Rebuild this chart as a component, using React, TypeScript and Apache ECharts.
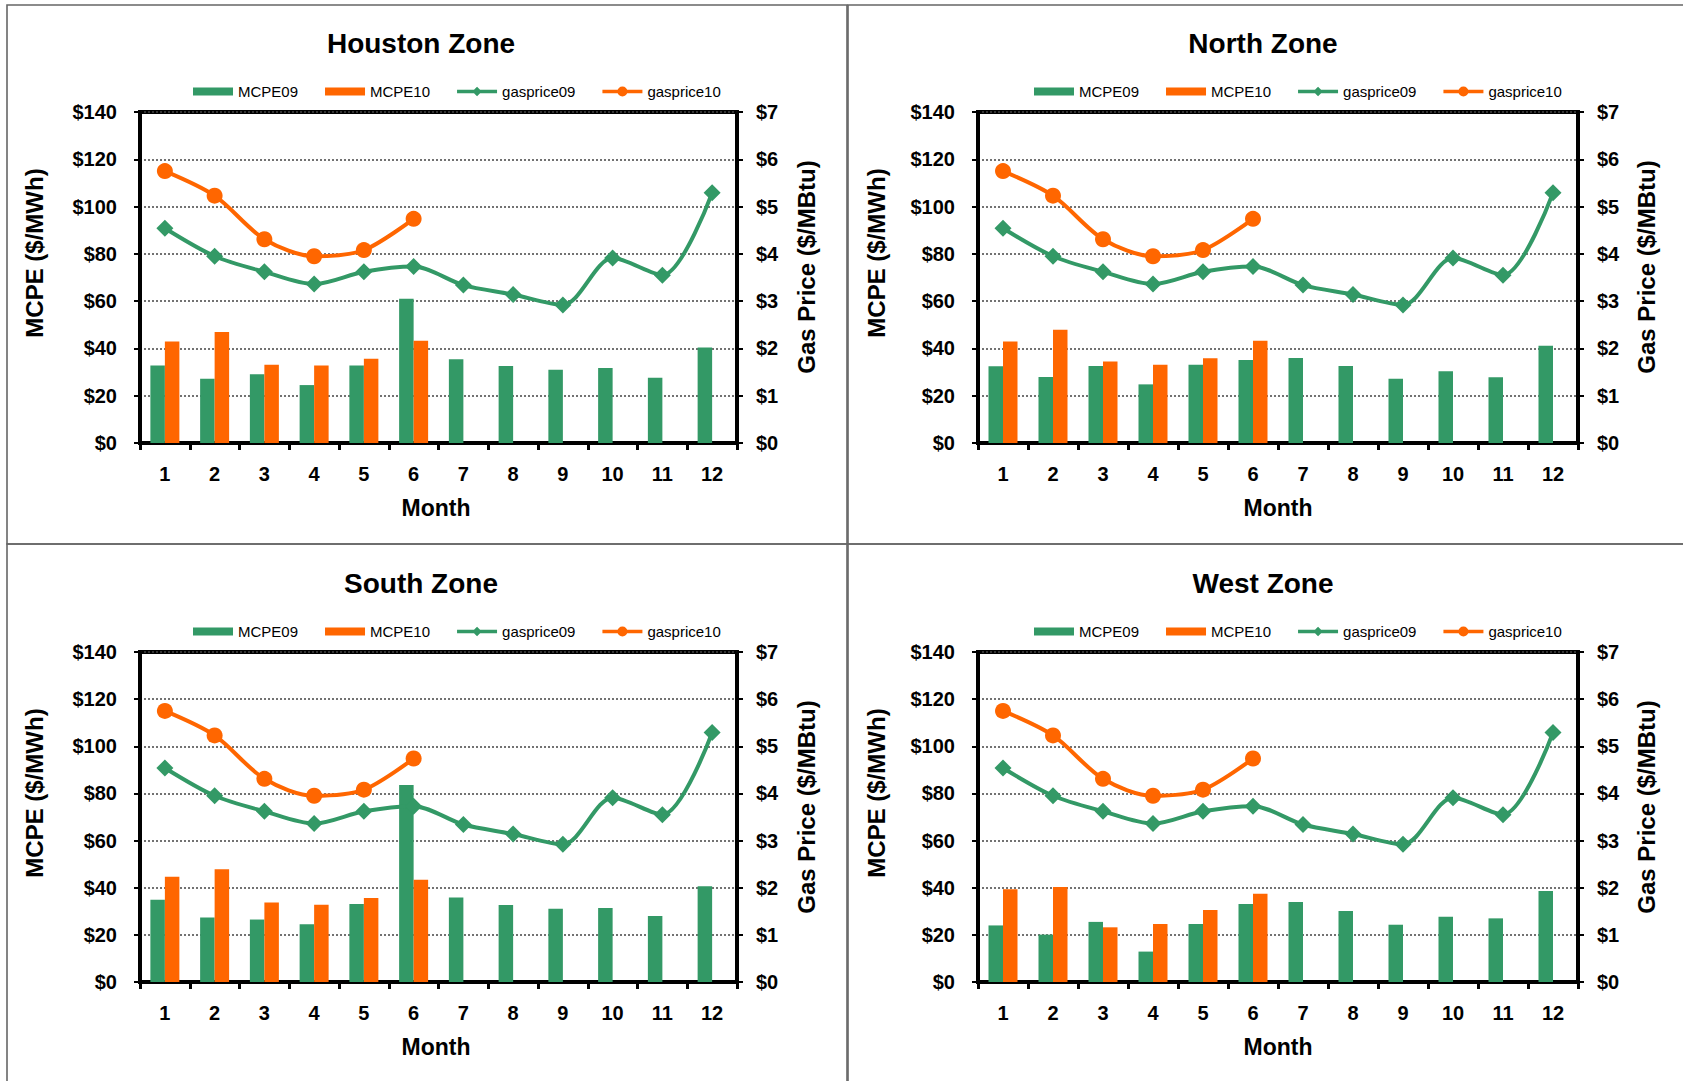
import React, { useEffect, useRef } from 'react';
import * as echarts from 'echarts';

const months = ['1', '2', '3', '4', '5', '6', '7', '8', '9', '10', '11', '12'];
const zoneNames = ['Houston Zone', 'North Zone', 'South Zone', 'West Zone'];
const legendNames = ['MCPE09', 'MCPE10', 'gasprice09', 'gasprice10'];

const houstonMCPE09 = [32.8, 27.2, 29.1, 24.5, 32.8, 61.0, 35.4, 32.6, 31.0, 31.7, 27.6, 40.4];
const houstonMCPE10 = [42.9, 46.9, 33.1, 32.8, 35.6, 43.2];
const northMCPE09 = [32.5, 27.9, 32.6, 24.8, 33.1, 35.1, 36.0, 32.6, 27.2, 30.3, 27.8, 41.1];
const northMCPE10 = [42.9, 47.9, 34.5, 33.1, 35.8, 43.2];
const southMCPE09 = [34.9, 27.4, 26.5, 24.5, 33.1, 83.6, 35.8, 32.7, 31.1, 31.4, 28.0, 40.6];
const southMCPE10 = [44.7, 47.8, 33.7, 32.8, 35.6, 43.4];
const westMCPE09 = [24.0, 20.1, 25.5, 12.9, 24.6, 33.1, 33.9, 30.1, 24.3, 27.7, 27.0, 38.6];
const westMCPE10 = [39.3, 40.3, 23.2, 24.6, 30.5, 37.4];

const gasprice09 = [4.54, 3.95, 3.62, 3.36, 3.62, 3.73, 3.34, 3.14, 2.92, 3.91, 3.55, 5.29];
const gasprice10 = [5.75, 5.23, 4.31, 3.95, 4.08, 4.74];

const zoneMCPE09 = [houstonMCPE09, northMCPE09, southMCPE09, westMCPE09];
const zoneMCPE10 = [houstonMCPE10, northMCPE10, southMCPE10, westMCPE10];

const GREEN = '#339966';
const ORANGE = '#FF6600';
const FONT = '"Liberation Sans", Arial, Helvetica, sans-serif';

// legend icons, all in a 40 x 10 box
const ICON_BAR = 'path://M0,0L0.01,0L0.01,0.01Z M0,1L40,1L40,9L0,9Z M39.99,9.99L40,9.99L40,10Z';
const ICON_DIAMOND = 'path://M0,3.3L40,3.3L40,6.7L0,6.7Z M15.2,5L20,0.2L24.8,5L20,9.8Z';
const ICON_CIRCLE = 'path://M0,3.3L40,3.3L40,6.7L0,6.7Z M15,5A5,5 0 1,1 25,5A5,5 0 1,1 15,5Z';

// layout (pixels)
const panels = [
  { gx: 140, gy: 112, gw: 597, gh: 331, px: 7, py: 5, pw: 840, ph: 539, titleX: 421, titleY: 43, legendX: 193, legendY: 84, yTitleX: 34, yTitleY: 253, rTitleX: 806, rTitleY: 267, mX: 436, mY: 508 },
  { gx: 978, gy: 112, gw: 600, gh: 331, px: 848, py: 5, pw: 860, ph: 539, titleX: 1263, titleY: 43, legendX: 1034, legendY: 84, yTitleX: 876, yTitleY: 253, rTitleX: 1646, rTitleY: 267, mX: 1278, mY: 508 },
  { gx: 140, gy: 652, gw: 597, gh: 330, px: 7, py: 544, pw: 840, ph: 560, titleX: 421, titleY: 583, legendX: 193, legendY: 624, yTitleX: 34, yTitleY: 793, rTitleX: 806, rTitleY: 807, mX: 436, mY: 1047 },
  { gx: 978, gy: 652, gw: 600, gh: 330, px: 848, py: 544, pw: 860, ph: 560, titleX: 1263, titleY: 583, legendX: 1034, legendY: 624, yTitleX: 876, yTitleY: 793, rTitleX: 1646, rTitleY: 807, mX: 1278, mY: 1047 },
];

function buildOption() {
  const grid: any[] = [];
  const xAxis: any[] = [];
  const yAxis: any[] = [];
  const series: any[] = [];
  const legend: any[] = [];
  const graphic: any[] = [];

  panels.forEach((p, i) => {
    grid.push({ left: p.gx, top: p.gy, width: p.gw, height: p.gh, show: true, borderColor: '#000', borderWidth: 4, backgroundColor: 'transparent' });
    xAxis.push({
      gridIndex: i,
      type: 'category',
      data: months,
      boundaryGap: true,
      axisLine: { show: true, lineStyle: { color: '#000', width: 4 } },
      axisTick: { show: true, length: 7, interval: 0, lineStyle: { color: '#000', width: 3 } },
      axisLabel: { interval: 0, margin: 21, fontSize: 20, fontWeight: 'bold', color: '#000', fontFamily: FONT },
      splitLine: { show: false },
    });
    yAxis.push({
      gridIndex: i,
      type: 'value',
      position: 'left',
      min: 0,
      max: 140,
      interval: 20,
      axisLine: { show: true, lineStyle: { color: '#000', width: 4 } },
      axisTick: { show: true, length: 6, lineStyle: { color: '#000', width: 2 } },
      axisLabel: { margin: 23, fontSize: 20, fontWeight: 'bold', color: '#000', fontFamily: FONT, formatter: (v: number) => '$' + v },
      splitLine: { show: true, lineStyle: { color: '#444', type: [2, 2], width: 1.5 } },
    });
    yAxis.push({
      gridIndex: i,
      type: 'value',
      position: 'right',
      min: 0,
      max: 7,
      interval: 1,
      axisLine: { show: true, lineStyle: { color: '#000', width: 3 } },
      axisTick: { show: true, length: 6, lineStyle: { color: '#000', width: 2 } },
      axisLabel: { margin: 19, fontSize: 20, fontWeight: 'bold', color: '#000', fontFamily: FONT, formatter: (v: number) => '$' + v },
      splitLine: { show: false },
    });
    series.push({
      name: 'MCPE09', type: 'bar', xAxisIndex: i, yAxisIndex: 2 * i, data: zoneMCPE09[i],
      barWidth: 14.5, barGap: '0%', itemStyle: { color: GREEN }, z: 2,
    });
    series.push({
      name: 'MCPE10', type: 'bar', xAxisIndex: i, yAxisIndex: 2 * i, data: zoneMCPE10[i],
      barWidth: 14.5, barGap: '0%', itemStyle: { color: ORANGE }, z: 2,
    });
    series.push({
      name: 'gasprice09', type: 'line', xAxisIndex: i, yAxisIndex: 2 * i + 1, data: gasprice09,
      smooth: 0.3, symbol: 'diamond', symbolSize: 17, showAllSymbol: true,
      lineStyle: { color: GREEN, width: 4 }, itemStyle: { color: GREEN }, z: 3,
    });
    series.push({
      name: 'gasprice10', type: 'line', xAxisIndex: i, yAxisIndex: 2 * i + 1, data: gasprice10,
      smooth: 0.3, symbol: 'circle', symbolSize: 16, showAllSymbol: true,
      lineStyle: { color: ORANGE, width: 4 }, itemStyle: { color: ORANGE }, z: 4,
    });
    legend.push({
      left: p.legendX,
      top: p.legendY,
      orient: 'horizontal',
      itemWidth: 40,
      itemHeight: 10,
      itemGap: 27,
      padding: 0,
      data: [
        { name: legendNames[0], icon: ICON_BAR, itemStyle: { color: GREEN, borderWidth: 0 } },
        { name: legendNames[1], icon: ICON_BAR, itemStyle: { color: ORANGE, borderWidth: 0 } },
        { name: legendNames[2], icon: ICON_DIAMOND, itemStyle: { color: GREEN, borderWidth: 0 } },
        { name: legendNames[3], icon: ICON_CIRCLE, itemStyle: { color: ORANGE, borderWidth: 0 } },
      ],
      textStyle: { fontSize: 15, color: '#000', fontFamily: FONT },
    });
    // panel border
    graphic.push({
      type: 'rect', silent: true, z: 0,
      shape: { x: p.px, y: p.py, width: p.pw, height: p.ph },
      style: { fill: 'none', stroke: '#666', lineWidth: 1.6 },
    });
    graphic.push({
      type: 'text', x: p.titleX, y: p.titleY, silent: true,
      style: { text: zoneNames[i], align: 'center', verticalAlign: 'middle', font: 'bold 28px ' + FONT, fill: '#000' },
    });
    graphic.push({
      type: 'text', x: p.yTitleX, y: p.yTitleY, rotation: Math.PI / 2, silent: true,
      style: { text: 'MCPE ($/MWh)', align: 'center', verticalAlign: 'middle', font: 'bold 24px ' + FONT, fill: '#000' },
    });
    graphic.push({
      type: 'text', x: p.rTitleX, y: p.rTitleY, rotation: Math.PI / 2, silent: true,
      style: { text: 'Gas Price ($/MBtu)', align: 'center', verticalAlign: 'middle', font: 'bold 24px ' + FONT, fill: '#000' },
    });
    graphic.push({
      type: 'text', x: p.mX, y: p.mY, silent: true,
      style: { text: 'Month', align: 'center', verticalAlign: 'middle', font: 'bold 23px ' + FONT, fill: '#000' },
    });
  });

  return {
    animation: false,
    backgroundColor: '#fff',
    grid, xAxis, yAxis, series, legend, graphic,
  };
}

export default function App() {
  const ref = useRef<HTMLDivElement>(null);
  useEffect(() => {
    if (!ref.current) return;
    const chart = echarts.init(ref.current, undefined, { renderer: 'svg' });
    chart.setOption(buildOption() as any);
    return () => chart.dispose();
  }, []);
  return (
    <div
      ref={ref}
      style={{ position: 'absolute', left: 0, top: 0, width: 1683, height: 1081, background: '#fff' }}
    />
  );
}
